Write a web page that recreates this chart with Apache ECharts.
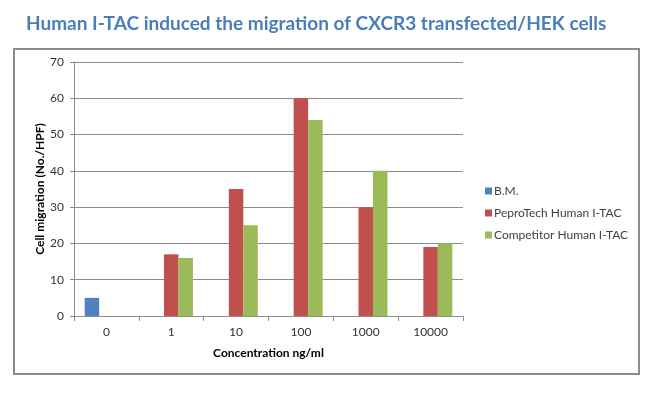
<!DOCTYPE html>
<html>
<head>
<meta charset="utf-8">
<script src="https://cdn.jsdelivr.net/npm/echarts@6/dist/echarts.min.js"></script>
<style>
html,body{margin:0;padding:0;background:#fff;}
#chart{width:650px;height:393px;}
</style>
</head>
<body>
<div id="chart"></div>
<script>
const categories = ['0', '1', '10', '100', '1000', '10000'];
const bmValues = [5, null, null, null, null, null];
const peproValues = [null, 17, 35, 60, 30, 19];
const competitorValues = [null, 16, 25, 54, 40, 20];
const yTicks = [0, 10, 20, 30, 40, 50, 60, 70];

const FONT = 'Lato';
const chart = echarts.init(document.getElementById('chart'), null, {renderer: 'canvas'});
chart.setOption({
  backgroundColor: '#ffffff',
  animation: false,
  title: {
    text: 'Human I-TAC induced the migration of CXCR3 transfected/HEK cells',
    left: 21, top: 9,
    textStyle: {fontFamily: FONT, fontWeight: 'bold', fontSize: 19, color: '#4a7ebb'}
  },
  graphic: [{
    type: 'rect', shape: {x: 14, y: 49, width: 625, height: 325},
    style: {fill: 'none', stroke: '#8c8c8c', lineWidth: 2}, z: -1
  }],
  legend: {
    orient: 'vertical', left: 480, top: 180, itemGap: 10,
    itemWidth: 7, itemHeight: 7, icon: 'rect',
    textStyle: {fontFamily: FONT, fontSize: 12, color: '#404040', padding: [0, 0, 0, -3]},
    data: ['B.M.', 'PeproTech Human I-TAC', 'Competitor Human I-TAC']
  },
  grid: {left: 74, top: 62, right: 187, bottom: 77},
  xAxis: {
    type: 'category', data: categories,
    name: 'Concentration ng/ml', nameLocation: 'middle', nameGap: 31, nameMoveOverlap: false,
    nameTextStyle: {fontFamily: FONT, fontWeight: 'bold', fontSize: 12, color: '#000'},
    axisLine: {lineStyle: {color: '#8c8c8c'}},
    axisTick: {show: true, length: 5, lineStyle: {color: '#8c8c8c'}},
    axisLabel: {fontFamily: FONT, fontSize: 12, color: '#333', margin: 10}
  },
  yAxis: {
    type: 'value', min: 0, max: 70, interval: 10,
    name: 'Cell migration (No./HPF)', nameLocation: 'middle', nameGap: 28, nameMoveOverlap: false,
    nameTextStyle: {fontFamily: FONT, fontWeight: 'bold', fontSize: 12, color: '#000'},
    axisLine: {show: true, lineStyle: {color: '#8c8c8c'}},
    axisTick: {show: true, length: 4, lineStyle: {color: '#8c8c8c'}},
    axisLabel: {fontFamily: FONT, fontSize: 12, color: '#333', margin: 10,
      formatter: v => yTicks.includes(v) ? String(v) : ''},
    splitLine: {lineStyle: {color: '#8c8c8c', width: 1}}
  },
  series: [
    {name: 'B.M.', type: 'bar', data: bmValues, barGap: '0%', barCategoryGap: '33%',
     itemStyle: {color: '#4f81bd'}},
    {name: 'PeproTech Human I-TAC', type: 'bar', data: peproValues, barGap: '0%', barCategoryGap: '33%',
     itemStyle: {color: '#c0504d'}},
    {name: 'Competitor Human I-TAC', type: 'bar', data: competitorValues, barGap: '0%', barCategoryGap: '33%',
     itemStyle: {color: '#9bbb59'}}
  ]
});
</script>
</body>
</html>
